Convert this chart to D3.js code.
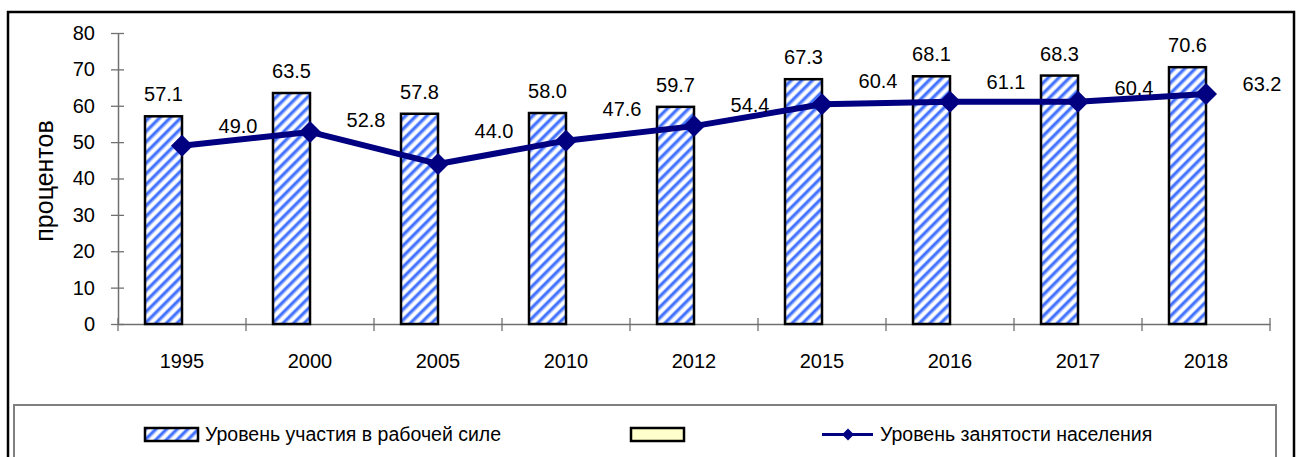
<!DOCTYPE html>
<html>
<head>
<meta charset="utf-8">
<script src="https://cdn.jsdelivr.net/npm/d3@7"></script>
<style>
  html, body { margin: 0; padding: 0; background: #fff; }
  svg { display: block; }
  text { font-family: "Liberation Sans", Arial, sans-serif; fill: #000; }
</style>
</head>
<body>
<svg id="chart" width="1296" height="457"></svg>
<script>
// ---- Data ----
const categories = ["1995", "2000", "2005", "2010", "2012", "2015", "2016", "2017", "2018"];
const laborForce = [57.1, 63.5, 57.8, 58.0, 59.7, 67.3, 68.1, 68.3, 70.6];
const employment = [49.0, 52.8, 44.0, 50.4, 54.4, 60.4, 61.1, 61.1, 63.2];
const employmentLabels = ["49.0", "52.8", "44.0", "47.6", "54.4", "60.4", "61.1", "60.4", "63.2"];
const yTicks = [0, 10, 20, 30, 40, 50, 60, 70, 80];
const seriesNames = ["Уровень участия в рабочей силе", "", "Уровень занятости населения"];
const yTitle = "процентов";

// ---- Layout (not data) ----
const lineLabelDy = [-20, -12, -33, -32, -21, -23, -20, -14, -10];
const FS = 20;

const svg = d3.select("#chart");

const defs = svg.append("defs");
const pat = defs.append("pattern")
  .attr("id", "hatch")
  .attr("patternUnits", "userSpaceOnUse")
  .attr("width", 7.5).attr("height", 7.5)
  .attr("patternTransform", "rotate(45)");
pat.append("rect").attr("width", 7.5).attr("height", 7.5).attr("fill", "#ffffff");
pat.append("rect").attr("x", 0).attr("width", 2.6).attr("height", 7.5).attr("fill", "#3f6fff");
pat.append("rect").attr("x", 2.6).attr("width", 0.8).attr("height", 7.5).attr("fill", "#9fb8ff");
pat.append("rect").attr("x", 6.7).attr("width", 0.8).attr("height", 7.5).attr("fill", "#9fb8ff");

// outer frame
svg.append("rect").attr("x", 8).attr("y", 12).attr("width", 1286).attr("height", 470)
  .attr("fill", "#fff").attr("stroke", "#000").attr("stroke-width", 2.5);

const x = d3.scaleBand().domain(categories).range([118, 1270]).padding(0);
const inner = d3.scaleBand().domain(["a", "b"]).range([0, x.bandwidth()]).paddingInner(0).paddingOuter(0.73);
const y = d3.scaleLinear().domain([0, 80]).range([324, 33]);

// Y axis
const yAxis = svg.append("g").attr("transform", "translate(118,0)")
  .call(d3.axisLeft(y).tickValues(yTicks).tickFormat(d3.format("d")).tickSizeOuter(0));
yAxis.select(".domain").attr("stroke", "#707070").attr("stroke-width", 1.5);
yAxis.selectAll(".tick line").attr("x1", 6).attr("x2", -7).attr("stroke", "#707070").attr("stroke-width", 1.3);
yAxis.selectAll(".tick text").attr("x", -23).attr("font-size", FS)
  .attr("font-family", "Liberation Sans, Arial, sans-serif").attr("fill", "#000");

// X axis
const xAxis = svg.append("g").attr("transform", "translate(0,324)")
  .call(d3.axisBottom(x).tickSize(0).tickSizeOuter(0));
xAxis.select(".domain").attr("stroke", "#707070").attr("stroke-width", 1.5);
xAxis.selectAll(".tick text").attr("y", 44).attr("dy", 0).attr("font-size", FS)
  .attr("font-family", "Liberation Sans, Arial, sans-serif").attr("fill", "#000");
const bounds = categories.map(c => x(c)).concat([x.range()[1]]);
xAxis.selectAll("line.bound").data(bounds).enter().append("line")
  .attr("class", "bound")
  .attr("x1", d => d).attr("x2", d => d)
  .attr("y1", -6).attr("y2", 7)
  .attr("stroke", "#707070").attr("stroke-width", 1.3);

// Bars
svg.append("g").selectAll("rect").data(laborForce).enter().append("rect")
  .attr("x", (d, i) => x(categories[i]) + inner("a"))
  .attr("y", d => y(d))
  .attr("width", inner.bandwidth())
  .attr("height", d => y(0) - y(d))
  .attr("fill", "url(#hatch)")
  .attr("stroke", "#000").attr("stroke-width", 2.5);

svg.append("g").selectAll("text").data(laborForce).enter().append("text")
  .attr("x", (d, i) => x(categories[i]) + inner("a") + inner.bandwidth() / 2)
  .attr("y", d => y(d) - 15)
  .attr("text-anchor", "middle").attr("font-size", FS)
  .text(d => d.toFixed(1));

// Line
const cx = i => x(categories[i]) + x.bandwidth() / 2;
const line = d3.line().x((d, i) => cx(i)).y(d => y(d));
svg.append("path").datum(employment)
  .attr("d", line).attr("fill", "none")
  .attr("stroke", "#000080").attr("stroke-width", 6).attr("stroke-linejoin", "round");

const diamond = d3.symbol().type(d3.symbolSquare).size(242);
svg.append("g").selectAll("path").data(employment).enter().append("path")
  .attr("d", diamond)
  .attr("transform", (d, i) => `translate(${cx(i)},${y(d)}) rotate(45)`)
  .attr("fill", "#000080");

svg.append("g").selectAll("text").data(employment).enter().append("text")
  .attr("x", (d, i) => cx(i) + 56)
  .attr("y", (d, i) => y(d) + lineLabelDy[i] + 7)
  .attr("text-anchor", "middle").attr("font-size", FS)
  .text((d, i) => employmentLabels[i]);

// Y title
svg.append("text")
  .attr("transform", "translate(44,181) rotate(-90)")
  .attr("text-anchor", "middle").attr("dominant-baseline", "central")
  .attr("font-size", 25)
  .text(yTitle);

// Legend
const LFS = 19.5;
const lg = svg.append("g");
lg.append("rect").attr("x", 14).attr("y", 405).attr("width", 1262).attr("height", 80)
  .attr("fill", "#fff").attr("stroke", "#808080").attr("stroke-width", 2);

lg.append("rect").attr("x", 145).attr("y", 428).attr("width", 53).attr("height", 13)
  .attr("fill", "url(#hatch)").attr("stroke", "#000").attr("stroke-width", 2.5);
lg.append("text").attr("x", 205).attr("y", 441).attr("font-size", LFS).text(seriesNames[0]);

lg.append("rect").attr("x", 631).attr("y", 428).attr("width", 53).attr("height", 13)
  .attr("fill", "#ffffcc").attr("stroke", "#000").attr("stroke-width", 2.5);

lg.append("line").attr("x1", 822).attr("x2", 873).attr("y1", 434.5).attr("y2", 434.5)
  .attr("stroke", "#000080").attr("stroke-width", 3);
lg.append("path").attr("d", d3.symbol().type(d3.symbolSquare).size(72))
  .attr("transform", "translate(848,434.5) rotate(45)").attr("fill", "#000080");
lg.append("text").attr("x", 880).attr("y", 441).attr("font-size", LFS).text(seriesNames[2]);
</script>
</body>
</html>
